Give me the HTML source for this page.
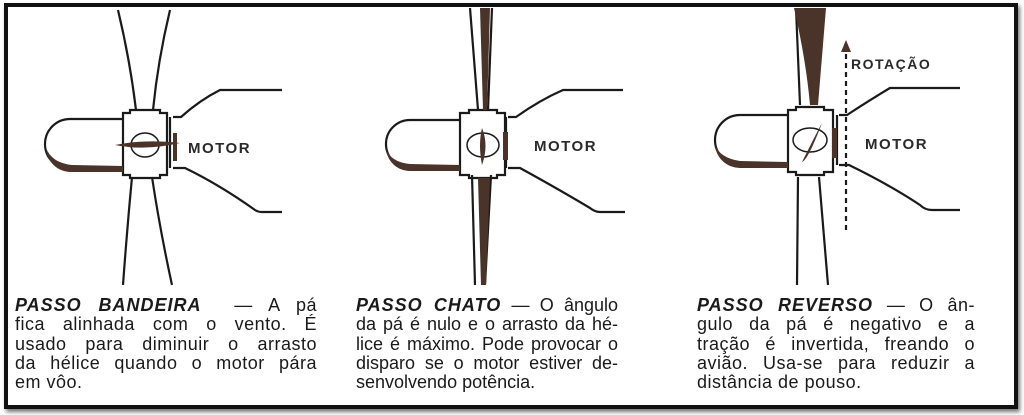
<!DOCTYPE html>
<html><head><meta charset="utf-8"><style>
body{margin:0;background:#fff;}
#c{position:relative;width:1024px;height:415px;overflow:hidden;background:#fff;}
.fr{position:absolute;left:4px;top:3px;width:1006px;height:398px;border:4px solid #111;box-shadow:2px 3px 4px #777;}
.col{position:absolute;top:296px;font-family:"Liberation Sans",sans-serif;font-size:18px;letter-spacing:0.5px;line-height:19.3px;color:#1a1a1a;}
.col div{text-align:justify;text-align-last:justify;white-space:nowrap;height:19.3px;}
.col div.l{text-align-last:left;}
b{font-style:italic;letter-spacing:1px;}
svg{position:absolute;left:0;top:0;}
</style></head><body><div id="c">
<svg width="1024" height="415" viewBox="0 0 1024 415">
<g fill="none" stroke="#1a1a1a" stroke-width="2.2">
<path d="M118,10 Q130,60 136,110 M170,10 Q158,60 153,110"/>
<path d="M132,177 Q127,230 123,285 M152,177 Q160,230 172,285"/>
<path d="M123,119 L70,119 A25,25 0 0 0 70,169 L123,169"/>
<path d="M123,113 h7 v-3 h30 v3 h7 v62 h-7 v3 h-30 v-3 h-7 z"/>
<ellipse cx="145" cy="145" rx="14" ry="12" stroke-width="1.5"/>
<path d="M170,117 v51 M173,117 h8 Q200,100 220,90 H282 M173,168 h12 Q220,185 255,210 Q258,212 262,212 H282"/>
<path d="M470,8 L478,110 M492,8 L488,110 M472,175 L475,285 M491,175 L485,285"/>
<path d="M460,120 L410,120 A24,24 0 0 0 410,168 L460,168"/>
<path d="M460,113 h9 v-3 h28 v3 h8 v62 h-8 v3 h-28 v-3 h-9 z"/>
<ellipse cx="483" cy="145" rx="16" ry="12" stroke-width="1.5"/>
<path d="M506,117 v51 M508,117 h8 Q540,100 563,90 H623 M508,168 h12 Q560,190 590,208 Q595,212 600,212 H625"/>
<path d="M800,105 L796,8 M798,177 L797,285 M819,177 L828,285"/>
<path d="M788,115 L740,115 A25,25 0 0 0 740,165 L788,165"/>
<path d="M788,110 h8 v-3 h28 v3 h9 v62 h-9 v3 h-28 v-3 h-8 z"/>
<ellipse cx="810" cy="140" rx="17" ry="12" stroke-width="1.5"/>
<path d="M837,115 v50 M839,115 h8 Q870,100 890,88 H960 M839,165 h10 Q890,185 920,205 Q925,210 932,210 H960"/>
<path d="M846,230 V48" stroke-dasharray="5,4"/>
</g>
<g fill="#4a3328">
<path d="M115,145 Q145,139 180,143 Q145,151 115,145 z"/>
<path d="M46,148 A25,25 0 0 0 70,172 L123,172 L123,166 L72,165 Q52,163 46,148 z"/>
<rect x="173" y="133" width="4" height="28"/>
<path d="M480,8 L490,8 L487,110 L483,110 z"/>
<path d="M478,178 L490,178 L486,285 L481,285 z"/>
<rect x="503" y="132" width="5" height="28"/>
<path d="M482,128 Q489,145 482,165 Q478,145 482,128 z"/>
<path d="M386,148 A24,24 0 0 0 410,171 L460,171 L460,165 L410,164 Q390,162 386,148 z"/>
<path d="M794,8 L826,8 L818,105 L810,105 Q806,60 794,8 z"/>
<rect x="832" y="128" width="5" height="30"/>
<path d="M822,123 Q818,130 802,162 Q808,160 822,123 z"/>
<path d="M715,145 A25,25 0 0 0 740,168 L788,168 L788,162 L740,161 Q720,158 715,145 z"/>
<path d="M846,40 L841,52 L851,52 z"/>
</g>
<g font-family="Liberation Sans, sans-serif" font-weight="bold" font-size="15" fill="#2a2a2a" letter-spacing="1.5">
<text x="188" y="153">MOTOR</text>
<text x="534" y="151">MOTOR</text>
<text x="865" y="149">MOTOR</text>
<text x="851" y="69" font-size="14">ROTAÇÃO</text>
</g>
</svg>
<div class="fr"></div>
<div class="col" style="left:15px;width:302px">
<div><b>PASSO BANDEIRA</b> &nbsp;— A pá</div>
<div>fica alinhada com o vento. É</div>
<div>usado para diminuir o arrasto</div>
<div>da hélice quando o motor pára</div>
<div class="l">em vôo.</div>
</div>
<div class="col" style="left:356px;width:262px;letter-spacing:0px">
<div><b>PASSO CHATO</b> — O ângulo</div>
<div>da pá é nulo e o arrasto da hé-</div>
<div>lice é máximo. Pode provocar o</div>
<div>disparo se o motor estiver de-</div>
<div class="l">senvolvendo potência.</div>
</div>
<div class="col" style="left:697px;width:278px">
<div><b>PASSO REVERSO</b> — O ân-</div>
<div>gulo da pá é negativo e a</div>
<div>tração é invertida, freando o</div>
<div>avião. Usa-se para reduzir a</div>
<div class="l">distância de pouso.</div>
</div>
</div></body></html>
